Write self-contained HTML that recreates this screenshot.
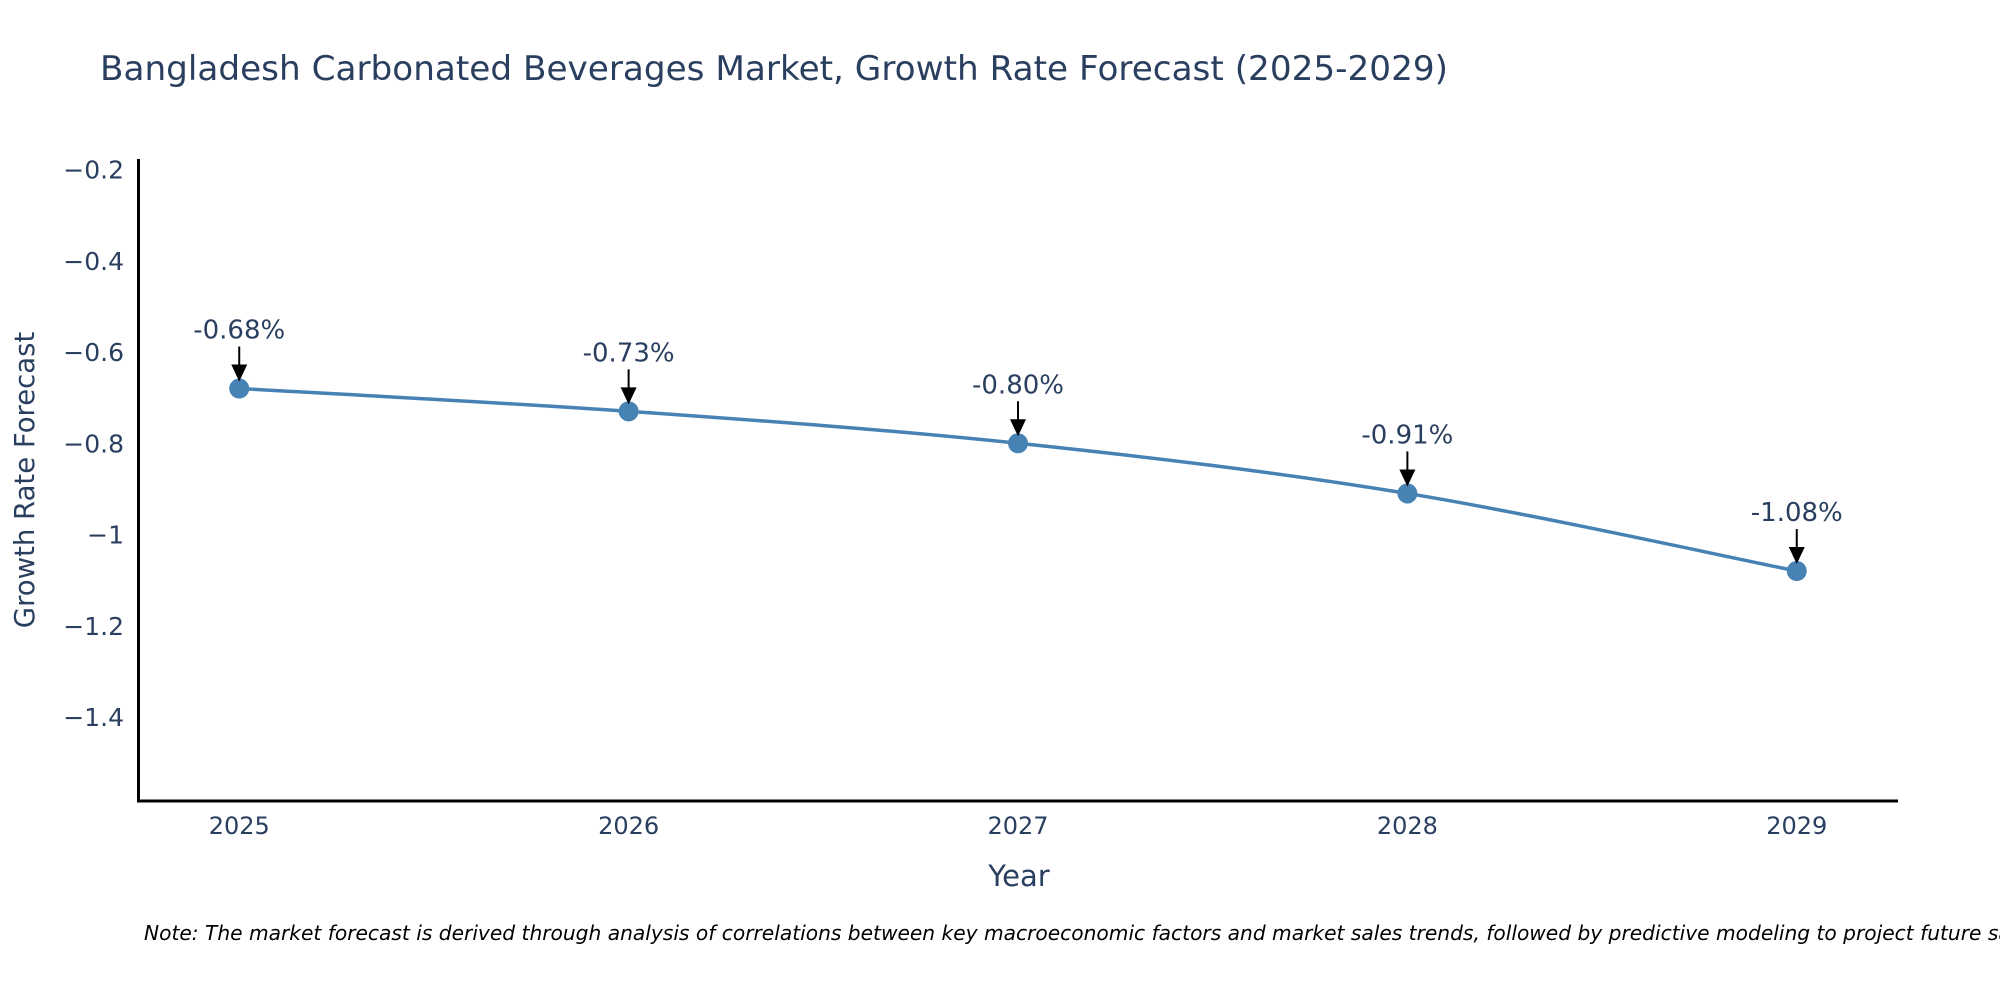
<!DOCTYPE html>
<html><head><meta charset="utf-8"><style>
body{margin:0;background:#fff}
svg text{font-family:"DejaVu Sans","Liberation Sans",sans-serif;fill:#2a3f5f}
</style></head><body>
<svg id="chart" width="2000" height="1000" viewBox="0 0 2000 1000" xmlns="http://www.w3.org/2000/svg">
<text x="100" y="80" font-size="34" textLength="1348" lengthAdjust="spacingAndGlyphs">Bangladesh Carbonated Beverages Market, Growth Rate Forecast (2025-2029)</text>
<g id="plot"></g>
<line x1="138.5" y1="159" x2="138.5" y2="802" stroke="#000" stroke-width="3"/>
<line x1="137" y1="801" x2="1898" y2="801" stroke="#000" stroke-width="3"/>
<text x="1019" y="886" font-size="29" text-anchor="middle">Year</text>
<text transform="translate(34,480) rotate(-90)" font-size="27.5" text-anchor="middle">Growth Rate Forecast</text>
<text x="144" y="940" font-size="20.2" font-style="italic" style="fill:#000">Note: The market forecast is derived through analysis of correlations between key macroeconomic factors and market sales trends, followed by predictive modeling to project future sales.</text>
</svg>
<script>
const years = [2025, 2026, 2027, 2028, 2029];
const growth = [-0.68, -0.73, -0.80, -0.91, -1.08];
const labels = ["-0.68%", "-0.73%", "-0.80%", "-0.91%", "-1.08%"];
const yTicks = [-0.2, -0.4, -0.6, -0.8, -1, -1.2, -1.4];
const yTickLabels = ["\u22120.2", "\u22120.4", "\u22120.6", "\u22120.8", "\u22121", "\u22121.2", "\u22121.4"];

const X0 = 138, X1 = 1898, Y0 = 159, Y1 = 801;
const xMin = 2024.74, xMax = 2029.26, yMax = -0.177, yMin = -1.584;
const sx = v => X0 + (v - xMin) / (xMax - xMin) * (X1 - X0);
const sy = v => Y0 + (yMax - v) / (yMax - yMin) * (Y1 - Y0);
const NS = "http://www.w3.org/2000/svg";
const g = document.getElementById('plot');
function mk(tag, attrs) { const e = document.createElementNS(NS, tag); for (const k in attrs) e.setAttribute(k, attrs[k]); g.appendChild(e); return e; }

yTicks.forEach((t, i) => {
  const e = mk('text', { x: 124, y: sy(t) + 9, 'font-size': 25, 'text-anchor': 'end' });
  
  
  e.textContent = yTickLabels[i];
});
years.forEach(y => {
  const e = mk('text', { x: sx(y), y: 834, 'font-size': 24, 'text-anchor': 'middle' });
  
  
  e.textContent = y;
});

const pts = years.map((y, i) => [sx(y), sy(growth[i])]);
let d = `M${pts[0][0]},${pts[0][1]}`;
for (let i = 0; i < pts.length - 1; i++) {
  const p0 = pts[Math.max(0, i - 1)], p1 = pts[i], p2 = pts[i + 1], p3 = pts[Math.min(pts.length - 1, i + 2)];
  const k = 6;
  const c1 = [p1[0] + (p2[0] - p0[0]) / k, p1[1] + (p2[1] - p0[1]) / k];
  const c2 = [p2[0] - (p3[0] - p1[0]) / k, p2[1] - (p3[1] - p1[1]) / k];
  d += ` C${c1[0]},${c1[1]} ${c2[0]},${c2[1]} ${p2[0]},${p2[1]}`;
}
const line = mk('path', { d, fill: 'none', stroke: '#4682b4', 'stroke-width': 3.5 });



pts.forEach((p, i) => {
  const c = mk('circle', { cx: p[0], cy: p[1], r: 10, fill: '#4682b4' });
  
  
  const a = mk('line', { x1: p[0], y1: p[1] - 42, x2: p[0], y2: p[1] - 22, stroke: '#000', 'stroke-width': 2 });
  
  
  const h = mk('polygon', { points: `${p[0] - 8},${p[1] - 24} ${p[0] + 8},${p[1] - 24} ${p[0]},${p[1] - 7}`, fill: '#000' });
  
  
  const t = mk('text', { x: p[0], y: p[1] - 50, 'font-size': 26, 'text-anchor': 'middle' });
  
  
  t.textContent = labels[i];
});
</script>
</body></html>
